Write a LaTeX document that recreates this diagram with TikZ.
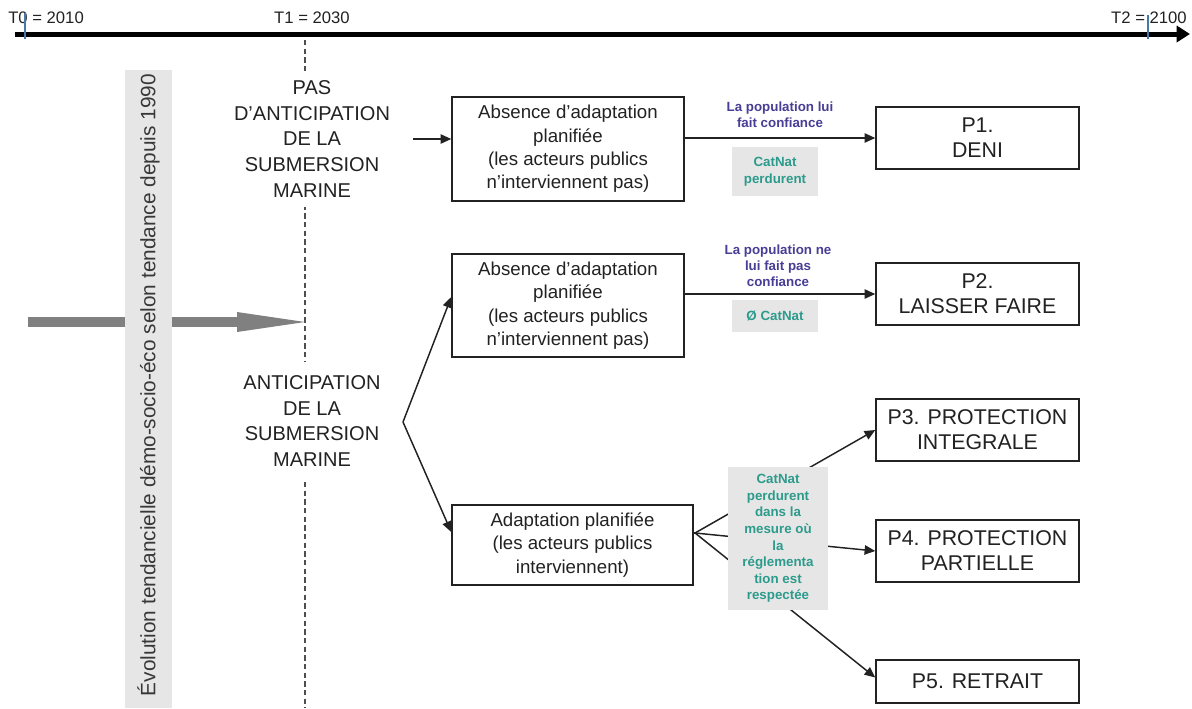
\documentclass[tikz,border=0pt]{standalone}
\usepackage{fontspec}
\setmainfont{Liberation Sans}
\usetikzlibrary{arrows.meta}
\definecolor{popc}{RGB}{72,62,150}
\definecolor{catc}{RGB}{45,155,140}
\definecolor{bandgray}{RGB}{230,230,230}
\definecolor{arrowgray}{RGB}{128,128,128}
\definecolor{txt}{RGB}{34,34,34}
\definecolor{tickc}{RGB}{70,120,170}
\begin{document}
\begin{tikzpicture}[x=0.75pt,y=-0.75pt,
  boxA/.style={draw=txt,line width=1.1pt,inner sep=0pt,align=center,text=txt,
    font=\fontsize{14pt}{17.5pt}\selectfont},
  pbox/.style={draw=txt,line width=1.1pt,inner sep=0pt,align=center,text=txt,
    minimum width=152.25pt,minimum height=46.5pt,
    font=\fontsize{16pt}{18.75pt}\selectfont},
  lab/.style={align=center,text=txt,fill=white,inner xsep=4pt,inner ysep=7pt,
    font=\fontsize{15pt}{19.3pt}\selectfont},
  tl/.style={text=txt,inner sep=0pt,font=\fontsize{12.5pt}{14pt}\selectfont},
  pop/.style={align=center,text=popc,inner sep=0pt,
    font=\bfseries\fontsize{10pt}{12pt}\selectfont},
  cat/.style={align=center,text=catc,fill=bandgray,inner sep=0pt,
    font=\bfseries\fontsize{10pt}{12.4pt}\selectfont},
  arr/.style={line width=1.1pt,draw=txt,-{Triangle[length=8pt,width=7pt]}},
  ln/.style={line width=1.1pt,draw=txt}]
\useasboundingbox (0,0) rectangle (1192,708);
\fill[white] (0,0) rectangle (1192,708);

% timeline
\coordinate (tl0) at (15,34);
\coordinate (tl1) at (1190,34);
\draw[line width=3.75pt,-{Triangle[length=10pt,width=12pt]}] (tl0) -- (tl1);
\node[tl,anchor=west] (t0) at (8,18) {T0 = 2010};
\node[tl] (t1) at (312,18) {T1 = 2030};
\node[tl,anchor=east] (t2) at (1187,18) {T2 = 2100};
\draw[tickc,line width=0.8pt] (25,13) -- (25,39);
\draw[tickc,line width=0.8pt] (1148,15) -- (1148,39);

% dashed T1 line
\coordinate (d0) at (305,40);
\coordinate (d1) at (305,708);
\draw[txt!80,line width=0.8pt,dash pattern=on 4pt off 2.5pt] (d0) -- (d1);

% gray trend arrow
\fill[arrowgray] (28,317) rectangle (237,327);
\fill[arrowgray] (237,312) -- (305,322) -- (237,332) -- cycle;

% vertical band
\fill[bandgray] (125,70) rectangle (172,708);
\node[rotate=90,text=txt!90,inner sep=0pt,font=\fontsize{15.6pt}{18pt}\selectfont] (evo) at (148.5,385)
  {Évolution tendancielle démo-socio-éco selon tendance depuis 1990};

% left labels
\node[lab] (pas) at (312,139) {PAS\\D’ANTICIPATION\\DE LA\\SUBMERSION\\MARINE};
\node[lab,inner ysep=10pt] (anti) at (312,421) {ANTICIPATION\\DE LA\\SUBMERSION\\MARINE};

% middle boxes
\node[boxA,minimum width=174pt,minimum height=78pt] (B1) at (568,149)
  {Absence d’adaptation\\planifiée\\(les acteurs publics\\n’interviennent pas)};
\node[boxA,minimum width=174pt,minimum height=77.25pt] (B2) at (568,305.5)
  {Absence d’adaptation\\planifiée\\(les acteurs publics\\n’interviennent pas)};
\node[boxA,minimum width=180.75pt,minimum height=60pt] (B3) at (572.5,545)
  {Adaptation planifiée\\(les acteurs publics\\interviennent)};

% outcome boxes
\node[pbox] (P1) at (977.5,138) {P1.\\DENI};
\node[pbox] (P2) at (977.5,294) {P2.\\LAISSER FAIRE};
\node[pbox] (P3) at (977.5,430) {P3. PROTECTION\\INTEGRALE};
\node[pbox] (P4) at (977.5,551) {P4. PROTECTION\\PARTIELLE};
\node[pbox,minimum height=32.25pt] (P5) at (977.5,681.5) {P5. RETRAIT};

% connectors
\coordinate (s1) at (413,139);
\draw[arr] (s1) -- (s1 -| B1.west);
\coordinate (f1) at (403,422);
\draw[arr] (f1) -- ([yshift=6.4pt]B2.west);
\draw[arr] (f1) -- ([yshift=9.75pt]B3.west);
\draw[arr] (B1.east |- P1.west) -- (P1.west);
\draw[arr] (B2.east |- P2.west) -- (P2.west);
\coordinate (f2) at ([yshift=9pt,xshift=1pt]B3.east);
\draw[ln] ([xshift=-1pt]f2) -- (f2);
\draw[arr] (f2) -- (P3.west);
\draw[arr] (f2) -- (P4.west);
\draw[arr] (f2) -- ([yshift=3pt]P5.west);

% labels on connectors
\node[pop] (pop1) at (780,114.5) {La population lui\\fait confiance};
\node[pop] (pop2) at (778,266) {La population ne\\lui fait pas\\confiance};
\node[cat,minimum width=64.5pt,minimum height=36.75pt] (c1) at (775,171.5) {CatNat\\perdurent};
\node[cat,minimum width=64.5pt,minimum height=24pt] (c2) at (775,316) {Ø CatNat};
\node[cat,minimum width=75pt,minimum height=107.25pt] (c3) at (778,538.5)
  {CatNat\\perdurent\\dans la\\mesure où\\la\\réglementa\\tion est\\respectée};
\end{tikzpicture}
\end{document}
